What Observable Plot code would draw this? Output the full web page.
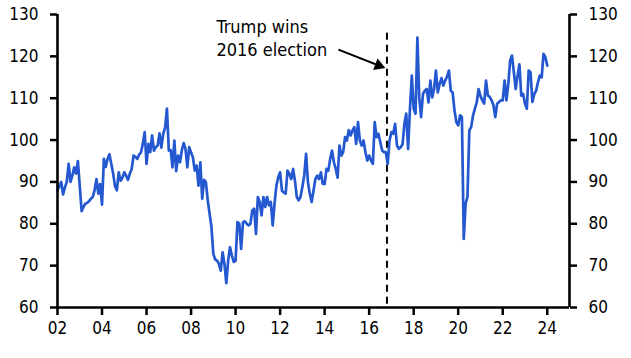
<!DOCTYPE html>
<html>
<head>
<meta charset="utf-8">
<script src="https://cdn.jsdelivr.net/npm/d3@7"></script>
<script src="https://cdn.jsdelivr.net/npm/@observablehq/plot@0.6"></script>
<style>
  html, body { margin: 0; padding: 0; background: #fff; }
  #chart { width: 631px; height: 358px; }
</style>
</head>
<body>
<div id="chart"></div>
<script>
// Monthly values, one array per year (Jan..Dec)
const v2002 = [88, 89, 90, 87, 88.7, 90, 94.3, 90, 91.5, 93.5, 92, 95];
const v2003 = [89, 83, 84, 84.8, 85, 85.4, 86, 86.4, 88, 90.7, 87.2, 89.5];
const v2004 = [84.6, 95.5, 93.6, 95.5, 96.6, 94.3, 92, 89, 88, 92.3, 90.3, 91];
const v2005 = [92.3, 91.5, 90.5, 92, 93.1, 96.3, 96, 95.5, 96.5, 97.1, 99.1, 101.9];
const v2006 = [94.3, 99.1, 97.1, 101.1, 97.5, 98.3, 98.7, 101.6, 98.2, 101.5, 103, 107.5];
const v2007 = [97.5, 97.6, 93.5, 99.9, 92.6, 96.3, 94.7, 97.5, 99.3, 97.9, 93.5, 98.3];
const v2008 = [97, 95.9, 92.7, 93.9, 89.1, 94.7, 86, 90.5, 89.9, 85.6, 82.4, 79.2];
const v2009 = [72.8, 71.5, 71.2, 70.4, 68.8, 73.2, 70.4, 65.8, 71.2, 74.4, 72.4, 70.9];
const v2010 = [71.2, 80.4, 80, 74, 80.4, 80.6, 80, 79.6, 80, 83.2, 83.6, 77.6];
const v2011 = [86.4, 85.2, 82, 86.4, 84, 86.4, 84.4, 85.2, 79.6, 84.8, 89.1, 91.1];
const v2012 = [92.3, 87.9, 87.5, 87.2, 92.7, 91.9, 90.7, 93.1, 90.3, 86.4, 85.6, 86.4];
const v2013 = [88.8, 91.5, 96.7, 89.9, 87.2, 85.2, 87.9, 90.7, 91.5, 90.7, 92.3, 89.5];
const v2014 = [89.5, 93.1, 92.7, 95.5, 97.5, 94.7, 93.1, 91, 98.7, 96.3, 97.1, 100.7];
const v2015 = [99.9, 102.4, 101.1, 102.3, 103.1, 99.1, 104.3, 99.9, 98.7, 99.9, 97.1, 95.1];
const v2016 = [96.3, 95.1, 94.3, 104.3, 100.7, 101.5, 99.5, 97.5, 97.1, 97.1, 94.3, 99.9];
const v2017 = [101.9, 101.5, 103.9, 98.7, 97.9, 98.3, 99, 103.9, 106.3, 97.9, 107.5, 115.4];
const v2018 = [107.5, 106.3, 124.5, 110.2, 105.5, 111, 111.8, 112.2, 109, 114.2, 110.2, 112.2];
const v2019 = [116.6, 111.4, 113.4, 114.8, 113, 114.2, 115.2, 116.6, 111.8, 111.4, 107.1, 104.3];
const v2020 = [103.5, 105.9, 105.5, 76.4, 84.8, 86.4, 102.3, 103.1, 105.9, 107.5, 109, 112.2];
const v2021 = [110.5, 109.5, 108.7, 114.2, 110.6, 110.3, 109.5, 108.3, 105.5, 108.7, 109.1, 109.5];
const v2022 = [109.5, 114.2, 109.5, 113.4, 119, 120.2, 116.2, 112.2, 115.4, 118.1, 110.6, 111];
const v2023 = [108.7, 107.5, 116.6, 116.2, 109.1, 111, 111.8, 113.8, 115.4, 115, 120.6, 119.8];
const v2024 = [117.8];

const startYear = 2002;
const yearly = [v2002, v2003, v2004, v2005, v2006, v2007, v2008, v2009, v2010, v2011, v2012,
  v2013, v2014, v2015, v2016, v2017, v2018, v2019, v2020, v2021, v2022, v2023, v2024];

const xTicks = [2002, 2004, 2006, 2008, 2010, 2012, 2014, 2016, 2018, 2020, 2022, 2024];
const yTicks = [60, 70, 80, 90, 100, 110, 120, 130];

// Annotation (data coordinates)
const electionDate = 2016.8;
const electionTop = 125.5;
const noteText = "Trump wins\n2016 election";
const notePos = {x: 2009.14, y: 129.5};
const arrowFrom = {x: 2014.62, y: 121.6};
const arrowTo = {x: 2016.63, y: 117.4};

const data = [];
yearly.forEach((arr, i) => arr.forEach((v, m) => data.push({t: startYear + i + m / 12, v})));

const font = "'DejaVu Sans Condensed', 'Liberation Sans Narrow', sans-serif";

const chart = Plot.plot({
  width: 631,
  height: 358,
  marginLeft: 57,
  marginRight: 62,
  marginTop: 14,
  marginBottom: 51,
  style: {fontFamily: font, fontSize: "17px", color: "#000", background: "#fff"},
  x: {domain: [2002, 2025]},
  y: {domain: [60, 130]},
  marks: [
    Plot.axisY({anchor: "left", ticks: yTicks, tickSize: 7, tickPadding: 12, strokeWidth: 2.5, label: null, fontSize: 17}),
    Plot.axisY({anchor: "right", ticks: yTicks, tickSize: 7, tickPadding: 12, strokeWidth: 2.5, label: null, fontSize: 17}),
    Plot.axisX({ticks: xTicks, tickSize: 8, tickPadding: 6, strokeWidth: 2.5, label: null, fontSize: 17,
      tickFormat: d => String(d).slice(2)}),
    Plot.ruleX([electionDate], {y1: electionTop, y2: 60, stroke: "#000", strokeWidth: 2, strokeDasharray: "7,5"}),
    Plot.line(data, {x: "t", y: "v", stroke: "#2358d0", strokeWidth: 2.7, curve: "linear"}),
    Plot.ruleX([2002, 2025], {y1: 60, y2: 130, stroke: "#000", strokeWidth: 2.6}),
    Plot.ruleY([60], {stroke: "#000", strokeWidth: 2.6}),
    Plot.text([notePos], {x: "x", y: "y", text: () => noteText, textAnchor: "start", lineAnchor: "top",
      lineHeight: 1.28, fontSize: 18, fill: "#000"}),
    Plot.link([{...arrowFrom, x2: arrowTo.x, y2: arrowTo.y}], {x1: "x", y1: "y", x2: "x2", y2: "y2", stroke: "#000", strokeWidth: 2}),
    Plot.dot([arrowTo], {x: "x", y: "y", symbol: "triangle", r: 4.6, fill: "#000", stroke: null, rotate: 110.7, dx: -4.5, dy: -1.7})
  ]
});
document.getElementById("chart").appendChild(chart);
</script>
</body>
</html>
